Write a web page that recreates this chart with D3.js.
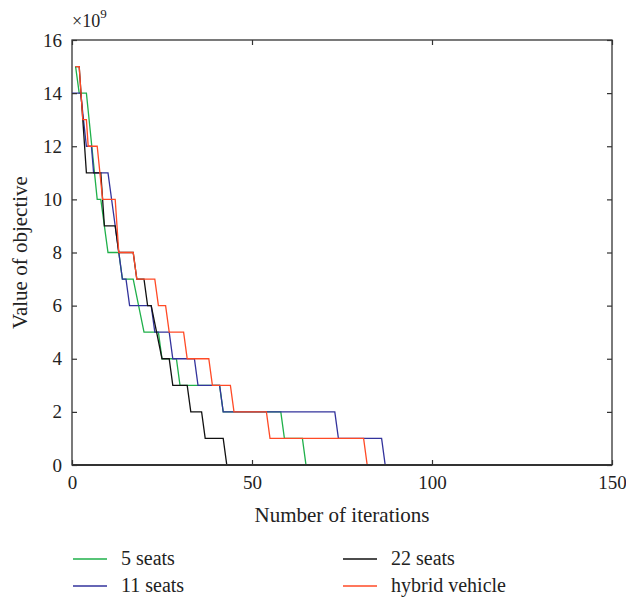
<!DOCTYPE html>
<html>
<head>
<meta charset="utf-8">
<script src="https://cdn.jsdelivr.net/npm/d3@7"></script>
<style>
body { margin: 0; background: #fff; }
svg text { font-family: "Liberation Serif", "DejaVu Serif", serif; fill: #222; }
</style>
</head>
<body>
<svg id="chart" width="626" height="599"></svg>
<script>
// vertices [iteration, objective / 1e9]
var seats5 = [[1,15],[2,14],[4,14],[7,10],[8,10],[10,8],[13,8],[14,7],[17,7],[20,5],[24,5],[25,4],[29,4],[30,3],[41,3],[42,2],[58,2],[59,1],[64,1],[65,0],[150,0]]
var seats11 = [[0,14],[2.4,14],[4,12],[5.4,12],[6,11],[10,11],[13,8],[14,7],[15,7],[16,6],[22,6],[23,5],[27,5],[28,4],[34,4],[35,3],[41,3],[42,2],[73,2],[74,1],[86,1],[87,0],[150,0]]
var seats22 = [[1,15],[2,15],[4,11],[8,11],[9,9],[12,9],[13,8],[17,8],[18,7],[20,7],[21,6],[22,6],[25,4],[27,4],[28,3],[32,3],[33,2],[36,2],[37,1],[42,1],[43,0],[150,0]]
var hybrid = [[1,15],[2,15],[3,13],[4,13],[4.5,12],[7,12],[8.5,10],[12,10],[13,8],[17,8],[18,7],[23,7],[24,6],[26,6],[27,5],[31,5],[32,4],[38,4],[39,3],[44,3],[45,2],[54,2],[55,1],[81,1],[82,0],[150,0]]

var series_names = ['5 seats', '11 seats', '22 seats', 'hybrid vehicle']
var series_colors = ['#1fb04a', '#33339c', '#111111', '#ff4a26']
var x_ticks = [0, 50, 100, 150]
var y_ticks = [0, 2, 4, 6, 8, 10, 12, 14, 16]

var svg = d3.select('#chart')
// plot box in pixels (not "top": that name is taken by window.top)
var p_left = 72, p_right = 612, p_top = 40, p_bottom = 465
var x = d3.scaleLinear().domain([0, 150]).range([p_left, p_right])
var y = d3.scaleLinear().domain([0, 16]).range([p_bottom, p_top])
var tick_len = 5

// frame
svg.append('rect')
	.attr('x', p_left).attr('y', p_top)
	.attr('width', p_right - p_left).attr('height', p_bottom - p_top)
	.attr('fill', 'none').attr('stroke', '#333').attr('stroke-width', 1.3)

// lines
var line = d3.line().x(function(d){return x(d[0])}).y(function(d){return y(d[1])})
var all_series = [seats5, seats11, seats22, hybrid]
svg.selectAll('path.series').data(all_series).enter().append('path')
	.attr('class', 'series')
	.attr('d', line)
	.attr('fill', 'none')
	.attr('stroke', function(d, i){return series_colors[i]})
	.attr('stroke-width', 1.3)

// bottom axis drawn over the zero lines
svg.append('line')
	.attr('x1', p_left).attr('x2', p_right).attr('y1', p_bottom).attr('y2', p_bottom)
	.attr('stroke', '#333').attr('stroke-width', 1.8)

// ticks, inward on all four sides
var ax_x = d3.axisBottom(x).tickValues(x_ticks).tickSize(-tick_len).tickPadding(11)
svg.append('g').attr('transform', 'translate(0,' + p_bottom + ')').call(ax_x)
var ax_xt = d3.axisTop(x).tickValues(x_ticks).tickSize(-tick_len).tickFormat('')
svg.append('g').attr('transform', 'translate(0,' + p_top + ')').call(ax_xt)
var ax_y = d3.axisLeft(y).tickValues(y_ticks).tickSize(-tick_len).tickPadding(10)
svg.append('g').attr('transform', 'translate(' + p_left + ',0)').call(ax_y)
var ax_yr = d3.axisRight(y).tickValues(y_ticks).tickSize(-tick_len).tickFormat('')
svg.append('g').attr('transform', 'translate(' + p_right + ',0)').call(ax_yr)
svg.selectAll('.domain').remove()
svg.selectAll('.tick line').attr('stroke', '#333').attr('stroke-width', 1.2)
svg.selectAll('.tick text').attr('font-size', 19).attr('fill', '#222')
	.style('font-family', '"Liberation Serif", serif')

// exponent
var ex = svg.append('text').attr('x', p_left).attr('y', 27).attr('font-size', 18)
ex.append('tspan').text('\u00d710')
ex.append('tspan').attr('dy', -9).attr('font-size', 13).text('9')

// axis titles
svg.append('text')
	.attr('x', (p_left + p_right) / 2).attr('y', 522)
	.attr('text-anchor', 'middle').attr('font-size', 21)
	.text('Number of iterations')
svg.append('text')
	.attr('transform', 'translate(27,' + ((p_top + p_bottom) / 2) + ') rotate(-90)')
	.attr('text-anchor', 'middle').attr('font-size', 21)
	.text('Value of objective')

// legend, two columns
var legend_pos = [[73, 559], [73, 586], [343, 559], [343, 586]]
var items = svg.selectAll('g.legend').data(series_names).enter().append('g')
	.attr('class', 'legend')
	.attr('transform', function(d, i){return 'translate(' + legend_pos[i][0] + ',' + legend_pos[i][1] + ')'})
items.append('line')
	.attr('x1', 0).attr('x2', 34).attr('y1', 0).attr('y2', 0)
	.attr('stroke', function(d, i){return series_colors[i]})
	.attr('stroke-width', 1.3)
items.append('text')
	.attr('x', 48).attr('y', 6).attr('font-size', 20)
	.text(function(d){return d})
</script>
</body>
</html>
